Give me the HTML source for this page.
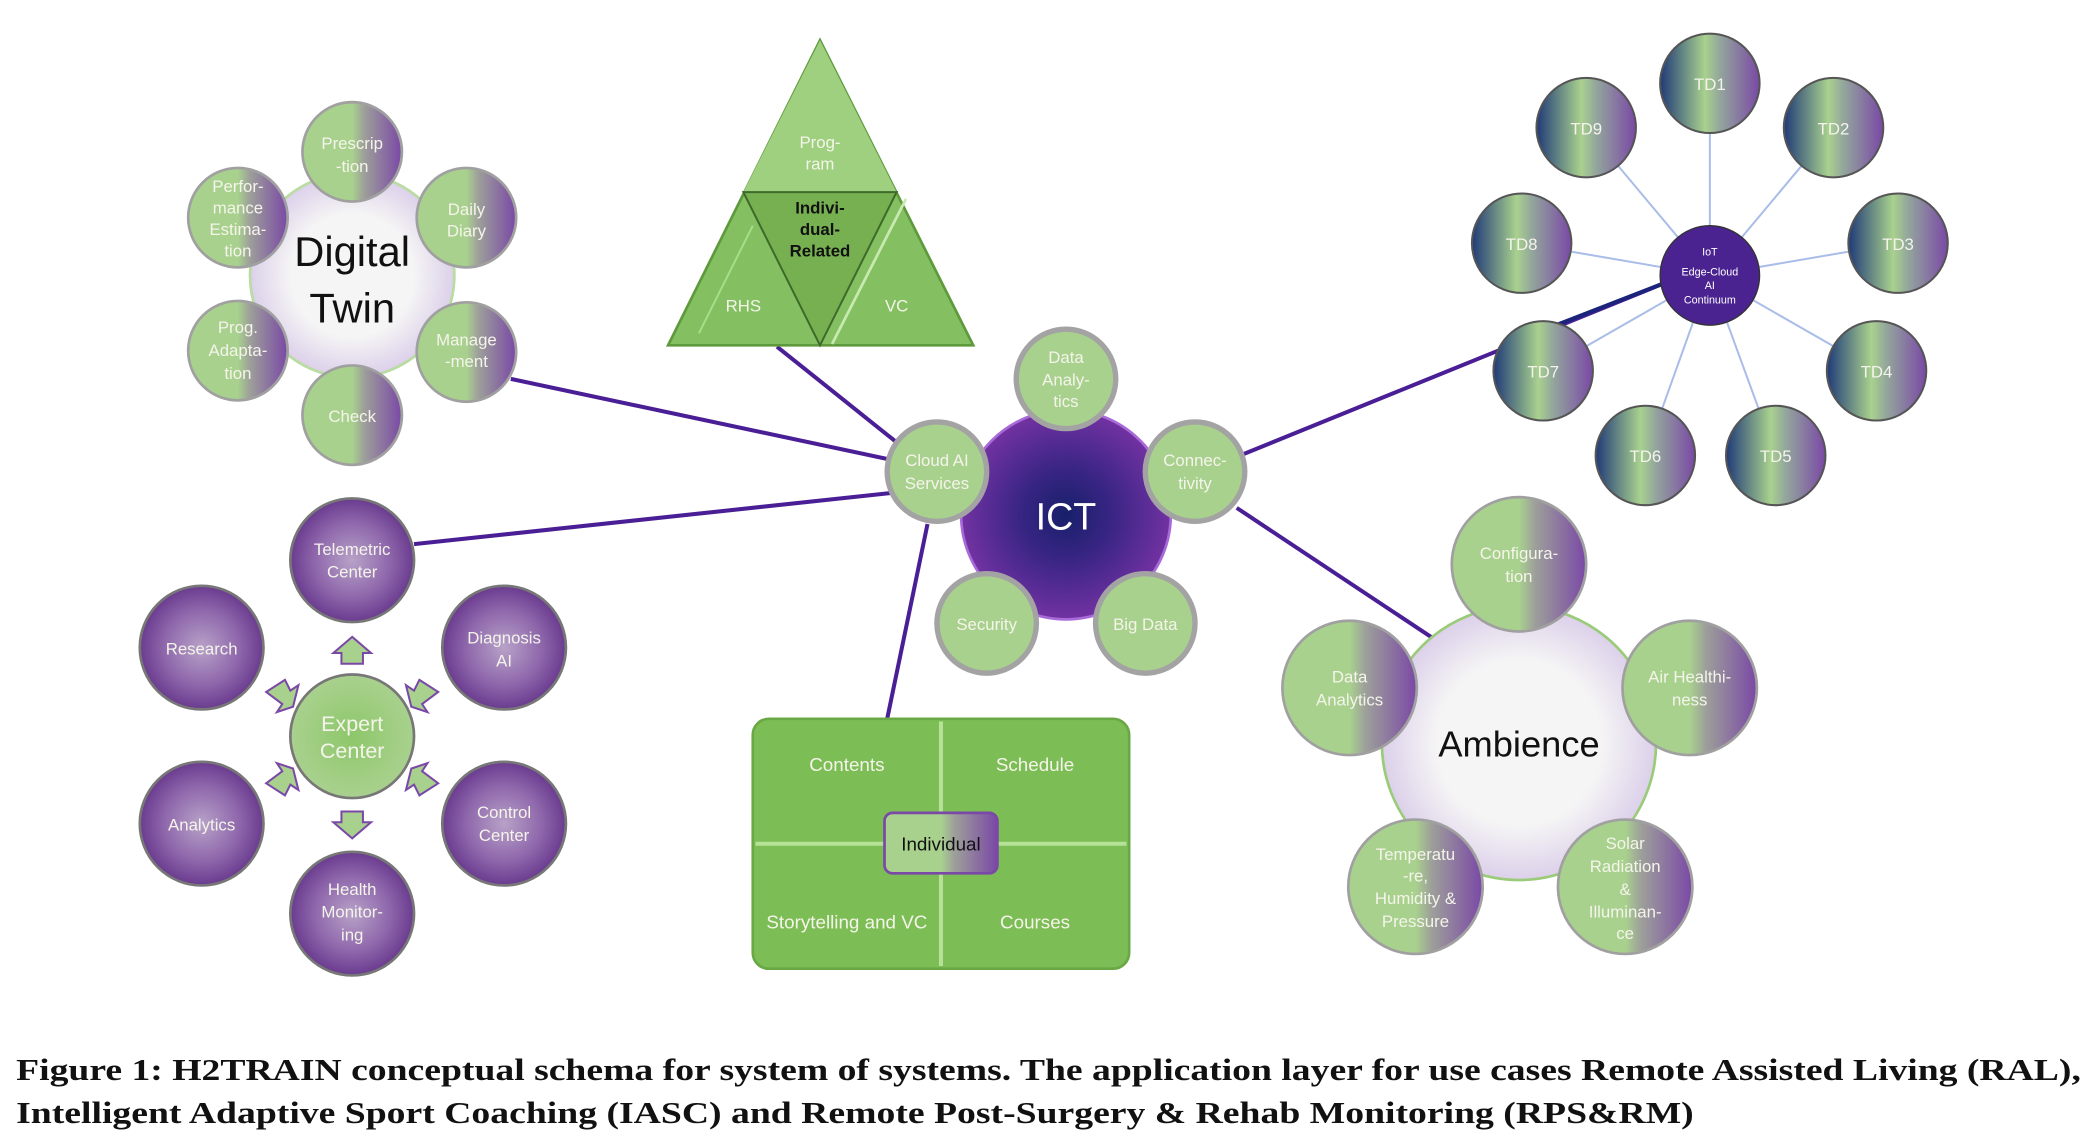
<!DOCTYPE html>
<html><head><meta charset="utf-8"><style>
html,body{margin:0;padding:0;background:#fff;}
svg{display:block;}
text{font-family:"Liberation Sans",sans-serif;}
.w{fill:#f4f4ea;font-size:12.5px;text-anchor:middle;}
.cap{font-family:"Liberation Serif",serif;font-weight:bold;font-size:23px;fill:#111;}
</style></head><body>
<svg width="2097" height="1138" viewBox="0 0 1560 847" preserveAspectRatio="none" xmlns="http://www.w3.org/2000/svg">
<defs>
<linearGradient id="gp" x1="0" x2="1" y1="0" y2="0">
<stop offset="0" stop-color="#a9d18e"/><stop offset="0.5" stop-color="#a9d18e"/><stop offset="0.62" stop-color="#9d9f9a"/><stop offset="1" stop-color="#7a48a6"/></linearGradient>
<linearGradient id="td" x1="0" x2="1">
<stop offset="0" stop-color="#1f3a78"/><stop offset="0.45" stop-color="#a9d18e"/><stop offset="0.6" stop-color="#93a69c"/><stop offset="1" stop-color="#7a48a6"/></linearGradient>
<radialGradient id="pr"><stop offset="0" stop-color="#b8a2c8"/><stop offset="0.6" stop-color="#8f68ac"/><stop offset="1" stop-color="#6a3b8f"/></radialGradient>
<radialGradient id="gr"><stop offset="0" stop-color="#8dc76a"/><stop offset="1" stop-color="#a9d18e"/></radialGradient>
<radialGradient id="ict"><stop offset="0" stop-color="#17206a"/><stop offset="0.45" stop-color="#3a2585"/><stop offset="1" stop-color="#7232a2"/></radialGradient>
<radialGradient id="wh"><stop offset="0.6" stop-color="#f5f5f5"/><stop offset="1" stop-color="#dcd0ea"/></radialGradient>
</defs>

<g stroke="#4a1f96" stroke-width="3" fill="none">
<line x1="380" y1="282" x2="662" y2="342"/>
<line x1="308" y1="405" x2="662" y2="367"/>
<line x1="578" y1="258" x2="668" y2="330"/>
<line x1="690" y1="390" x2="660" y2="535"/>
<line x1="925" y1="338" x2="1240" y2="210"/>
<line x1="920" y1="378" x2="1066" y2="475"/>
</g>

<circle cx="262" cy="205" r="76" fill="url(#wh)" stroke="#b9dca2" stroke-width="2"/>
<g stroke="#a0a0a0" stroke-width="2" fill="url(#gp)">
<circle cx="262" cy="113" r="37"/><circle cx="347" cy="162" r="37"/><circle cx="347" cy="262" r="37"/>
<circle cx="262" cy="309" r="37"/><circle cx="177" cy="261" r="37"/><circle cx="177" cy="162" r="37"/>
</g>
<text x="262" y="198" font-size="31" text-anchor="middle" fill="#111">Digital</text>
<text x="262" y="240" font-size="31" text-anchor="middle" fill="#111">Twin</text>
<text class="w" x="262" y="111">Prescrip</text><text class="w" x="262" y="128">-tion</text>
<text class="w" x="347" y="160">Daily</text><text class="w" x="347" y="176">Diary</text>
<text class="w" x="347" y="257">Manage</text><text class="w" x="347" y="273">-ment</text>
<text class="w" x="262" y="314">Check</text>
<text class="w" x="177" y="248">Prog.</text><text class="w" x="177" y="265">Adapta-</text><text class="w" x="177" y="282">tion</text>
<text class="w" x="177" y="143">Perfor-</text><text class="w" x="177" y="159">mance</text><text class="w" x="177" y="175">Estima-</text><text class="w" x="177" y="191">tion</text>

<polygon points="610,30 497,257 724,257" fill="#84c062" stroke="#5e9a3c" stroke-width="2"/>
<polygon points="610,30 553,143 667,143" fill="#9fd07f"/>
<polygon points="553,143 667,143 610,257" fill="#76b050" stroke="#3e6a2a" stroke-width="1.5"/>
<line x1="674" y1="148" x2="619" y2="256" stroke="#c8eab0" stroke-width="2"/>
<line x1="520" y1="248" x2="560" y2="168" stroke="#a8dc88" stroke-width="1.5"/>
<text class="w" x="610" y="110">Prog-</text><text class="w" x="610" y="126">ram</text>
<text x="610" y="159" font-size="12.5" font-weight="bold" text-anchor="middle" fill="#111">Indivi-</text>
<text x="610" y="175" font-size="12.5" font-weight="bold" text-anchor="middle" fill="#111">dual-</text>
<text x="610" y="191" font-size="12.5" font-weight="bold" text-anchor="middle" fill="#111">Related</text>
<text class="w" x="553" y="232">RHS</text><text class="w" x="667" y="232">VC</text>

<circle cx="793" cy="383" r="78" fill="url(#ict)" stroke="#a76ad8" stroke-width="2"/>
<text x="793" y="394" font-size="28" text-anchor="middle" fill="#fff">ICT</text>
<g fill="#a9d18e" stroke="#a3a3a3" stroke-width="4">
<circle cx="793" cy="282" r="37"/><circle cx="697" cy="351" r="37"/><circle cx="889" cy="351" r="37"/>
<circle cx="734" cy="464" r="37"/><circle cx="852" cy="464" r="37"/>
</g>
<text class="w" x="793" y="270">Data</text><text class="w" x="793" y="287">Analy-</text><text class="w" x="793" y="303">tics</text>
<text class="w" x="697" y="347">Cloud AI</text><text class="w" x="697" y="364">Services</text>
<text class="w" x="889" y="347">Connec-</text><text class="w" x="889" y="364">tivity</text>
<text class="w" x="734" y="469">Security</text><text class="w" x="852" y="469">Big Data</text>

<g fill="url(#pr)" stroke="#777" stroke-width="2">
<circle cx="262" cy="417" r="46"/><circle cx="150" cy="482" r="46"/><circle cx="375" cy="482" r="46"/>
<circle cx="150" cy="613" r="46"/><circle cx="375" cy="613" r="46"/><circle cx="262" cy="680" r="46"/>
</g>
<circle cx="262" cy="548" r="46" fill="url(#gr)" stroke="#777" stroke-width="2"/>
<text class="w" x="262" y="413">Telemetric</text><text class="w" x="262" y="430">Center</text>
<text class="w" x="150" y="487">Research</text>
<text class="w" x="375" y="479">Diagnosis</text><text class="w" x="375" y="496">AI</text>
<text class="w" x="150" y="618">Analytics</text>
<text class="w" x="375" y="609">Control</text><text class="w" x="375" y="626">Center</text>
<text class="w" x="262" y="666">Health</text><text class="w" x="262" y="683">Monitor-</text><text class="w" x="262" y="700">ing</text>
<text x="262" y="544" font-size="16" text-anchor="middle" fill="#f4f4ea">Expert</text>
<text x="262" y="564" font-size="16" text-anchor="middle" fill="#f4f4ea">Center</text>
<g fill="#a9d18e" stroke="#7a48a6" stroke-width="1.5">
<polygon points="262,474 248,486 254,486 254,494 270,494 270,486 276,486"/>
<polygon points="262,624 248,612 254,612 254,604 270,604 270,612 276,612"/>
<polygon points="198,515 212,506 216,514 222,510 218,526 206,530 210,524"/>
<polygon points="326,515 312,506 308,514 302,510 306,526 318,530 314,524"/>
<polygon points="198,583 212,592 216,584 222,588 218,572 206,568 210,574"/>
<polygon points="326,583 312,592 308,584 302,588 306,572 318,568 314,574"/>
</g>

<rect x="560" y="535" width="280" height="186" rx="12" fill="#7dbd55" stroke="#6aa845" stroke-width="2"/>
<line x1="700" y1="537" x2="700" y2="719" stroke="#b5e296" stroke-width="3"/>
<line x1="562" y1="628" x2="838" y2="628" stroke="#b5e296" stroke-width="3"/>
<rect x="658" y="605" width="84" height="45" rx="6" fill="url(#gp)" stroke="#7a48a6" stroke-width="2"/>
<text x="700" y="633" font-size="14" text-anchor="middle" fill="#111">Individual</text>
<text x="630" y="574" font-size="14" text-anchor="middle" fill="#f4f4ea">Contents</text>
<text x="770" y="574" font-size="14" text-anchor="middle" fill="#f4f4ea">Schedule</text>
<text x="630" y="691" font-size="14" text-anchor="middle" fill="#f4f4ea">Storytelling and VC</text>
<text x="770" y="691" font-size="14" text-anchor="middle" fill="#f4f4ea">Courses</text>

<g stroke="#a9bde8" stroke-width="1.5">
<line x1="1272" y1="205" x2="1272" y2="62"/><line x1="1272" y1="205" x2="1364" y2="95"/>
<line x1="1272" y1="205" x2="1412" y2="181"/><line x1="1272" y1="205" x2="1396" y2="276"/>
<line x1="1272" y1="205" x2="1321" y2="339"/><line x1="1272" y1="205" x2="1224" y2="339"/>
<line x1="1272" y1="205" x2="1148" y2="276"/><line x1="1272" y1="205" x2="1132" y2="181"/>
<line x1="1272" y1="205" x2="1180" y2="95"/>
</g>
<line x1="1240" y1="210" x2="1150" y2="245" stroke="#1b237a" stroke-width="3"/>
<g fill="url(#td)" stroke="#555" stroke-width="1.5">
<circle cx="1272" cy="62" r="37"/><circle cx="1364" cy="95" r="37"/><circle cx="1412" cy="181" r="37"/>
<circle cx="1396" cy="276" r="37"/><circle cx="1321" cy="339" r="37"/><circle cx="1224" cy="339" r="37"/>
<circle cx="1148" cy="276" r="37"/><circle cx="1132" cy="181" r="37"/><circle cx="1180" cy="95" r="37"/>
</g>
<text class="w" x="1272" y="67">TD1</text><text class="w" x="1364" y="100">TD2</text><text class="w" x="1412" y="186">TD3</text>
<text class="w" x="1396" y="281">TD4</text><text class="w" x="1321" y="344">TD5</text><text class="w" x="1224" y="344">TD6</text>
<text class="w" x="1148" y="281">TD7</text><text class="w" x="1132" y="186">TD8</text><text class="w" x="1180" y="100">TD9</text>
<circle cx="1272" cy="205" r="37" fill="#4a2390" stroke="#333" stroke-width="1"/>
<g font-size="8" fill="#fff" text-anchor="middle">
<text x="1272" y="190">IoT</text><text x="1272" y="205">Edge-Cloud</text><text x="1272" y="215">AI</text><text x="1272" y="226">Continuum</text>
</g>

<circle cx="1130" cy="553" r="102" fill="url(#wh)" stroke="#9acb78" stroke-width="2"/>
<g fill="url(#gp)" stroke="#a0a0a0" stroke-width="2">
<circle cx="1130" cy="420" r="50"/><circle cx="1257" cy="512" r="50"/><circle cx="1209" cy="660" r="50"/>
<circle cx="1053" cy="660" r="50"/><circle cx="1004" cy="512" r="50"/>
</g>
<text x="1130" y="563" font-size="27" text-anchor="middle" fill="#111">Ambience</text>
<text class="w" x="1130" y="416">Configura-</text><text class="w" x="1130" y="433">tion</text>
<text class="w" x="1257" y="508">Air Healthi-</text><text class="w" x="1257" y="525">ness</text>
<text class="w" x="1004" y="508">Data</text><text class="w" x="1004" y="525">Analytics</text>
<text class="w" x="1053" y="640">Temperatu</text><text class="w" x="1053" y="656">-re,</text><text class="w" x="1053" y="673">Humidity &amp;</text><text class="w" x="1053" y="690">Pressure</text>
<text class="w" x="1209" y="632">Solar</text><text class="w" x="1209" y="649">Radiation</text><text class="w" x="1209" y="666">&amp;</text><text class="w" x="1209" y="683">Illuminan-</text><text class="w" x="1209" y="699">ce</text>

<text class="cap" x="12" y="804" textLength="1536" lengthAdjust="spacingAndGlyphs">Figure 1: H2TRAIN conceptual schema for system of systems. The application layer for use cases Remote Assisted Living (RAL),</text>
<text class="cap" x="12" y="836" textLength="1248" lengthAdjust="spacingAndGlyphs">Intelligent Adaptive Sport Coaching (IASC) and Remote Post-Surgery &amp; Rehab Monitoring (RPS&amp;RM)</text>
</svg>
</body></html>
